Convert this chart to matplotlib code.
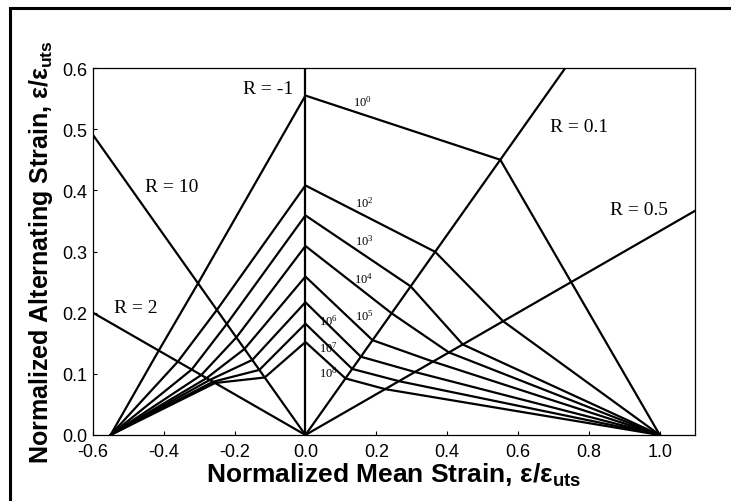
import numpy as np
import matplotlib.pyplot as plt
from matplotlib.patches import Rectangle

plt.rcParams['mathtext.fontset'] = 'custom'
plt.rcParams['mathtext.rm'] = 'Liberation Serif'
plt.rcParams['mathtext.bf'] = 'Liberation Sans:bold'

# cycles to failure (one constant-life line each)
cycle_labels = ['0', '2', '3', '4', '5', '6', '7', '8']

# normalized alternating strain at each R-ratio, per cycle count
amp_r2 = [0.138, 0.120, 0.107, 0.098, 0.093, 0.090, 0.087, 0.085]
amp_r10 = [0.248, 0.2045, 0.1816, 0.1595, 0.1407, 0.1227, 0.1064, 0.094]
amp_rm1 = [0.555, 0.408, 0.359, 0.309, 0.259, 0.217, 0.182, 0.152]
amp_r01 = [0.450, 0.2995, 0.243, 0.199, 0.155, 0.128, 0.108, 0.0925]
amp_r05 = [0.250, 0.186, 0.148, 0.135, 0.120, 0.103, 0.088, 0.075]

# static strengths (normalized)
ucs = -0.55
uts = 1.0

r_values = [2, 10, -1, 0.1, 0.5]
r_text = ['R = 2', 'R = 10', 'R = -1', 'R = 0.1', 'R = 0.5']
r_text_pos = [(-0.48, 0.209), (-0.377, 0.407), (-0.105, 0.566), (0.773, 0.505), (0.94, 0.369)]

label_pos = [(0.16, 0.546), (0.165, 0.38), (0.165, 0.318), (0.165, 0.256),
             (0.165, 0.195), (0.066, 0.187), (0.066, 0.144), (0.066, 0.103)]


def mean_from_amp(amp, r):
    # mean strain for a given amplitude and R = min/max
    return amp * (1 + r) / (1 - r)


fig = plt.figure(figsize=(7.31, 5.02), dpi=100)
ax = fig.add_axes([0.127, 0.1315, 0.824, 0.731])

# radial R lines from the origin
for r in r_values:
    if r == -1:
        ax.plot([0, 0], [0, 0.6], color='black', lw=1.6)
        continue
    slope = (1 - r) / (1 + r)
    x_end = 2.0 if slope > 0 else -2.0
    ax.plot([0, x_end], [0, abs(x_end * slope)], color='black', lw=1.6)

# constant life lines
all_amps = [amp_r2, amp_r10, amp_rm1, amp_r01, amp_r05]
for i in range(len(cycle_labels)):
    xs = [ucs]
    ys = [0.0]
    for r, amps in zip(r_values, all_amps):
        a = amps[i]
        xs.append(0.0 if r == -1 else mean_from_amp(a, r))
        ys.append(a)
    xs.append(uts)
    ys.append(0.0)
    ax.plot(xs, ys, color='black', lw=1.6, solid_joinstyle='miter')

for lbl, (lx, ly) in zip(cycle_labels, label_pos):
    ax.text(lx, ly, r'$\mathrm{10^{%s}}$' % lbl, fontsize=9, ha='center', va='center')

for txt, (tx, ty) in zip(r_text, r_text_pos):
    ax.text(tx, ty, txt, fontsize=14, family='Liberation Serif', ha='center', va='center')

ax.set_xlim(-0.6, 1.1)
ax.set_ylim(0, 0.6)
ax.set_xticks(np.arange(-0.6, 1.01, 0.2))
ax.set_yticks(np.arange(0, 0.61, 0.1))
ax.xaxis.set_major_formatter(plt.FormatStrFormatter('%.1f'))
ax.yaxis.set_major_formatter(plt.FormatStrFormatter('%.1f'))
ax.tick_params(direction='in', length=3, labelsize=13)
ax.tick_params(axis='x', pad=6)
ax.tick_params(axis='y', pad=4)
for lab in ax.get_xticklabels() + ax.get_yticklabels():
    lab.set_family('Liberation Sans')
for sp in ax.spines.values():
    sp.set_linewidth(0.9)

ax.set_xlabel(r'Normalized Mean Strain, ε/ε$_{\mathbf{uts}}$', fontsize=19,
              fontweight='bold', family='Liberation Sans', labelpad=0)
ax.set_ylabel(r'Normalized Alternating Strain, ε/ε$_{\mathbf{uts}}$', fontsize=18,
              fontweight='bold', family='Liberation Sans', labelpad=5)

# outer frame of the figure
fig.patches.append(Rectangle((10 / 731, -0.02), 1.0, 1 - 9 / 502 + 0.02,
                             transform=fig.transFigure, fill=False,
                             edgecolor='black', lw=2.2))

fig.savefig('out.png', dpi=100)
